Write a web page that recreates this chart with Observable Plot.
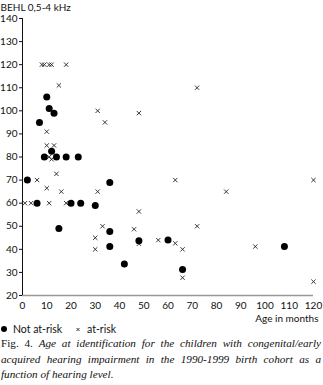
<!DOCTYPE html>
<html>
<head>
<meta charset="utf-8">
<script src="https://cdn.jsdelivr.net/npm/d3@7"></script>
<script src="https://cdn.jsdelivr.net/npm/@observablehq/plot@0.6"></script>
<style>
  html, body { margin: 0; padding: 0; background: #fff; }
  #wrap { width: 323px; }
  .legend { height: 11px; position: relative; }
  .caption { font-family: "Liberation Serif", serif; font-size: 11.2px; line-height: 15.5px; color: #111; padding: 0 2px 0 1px; margin-top: 1px; }
  .caption div { white-space: nowrap; }
  .caption .j { text-align: justify; text-align-last: justify; white-space: normal; }
  .caption i { font-style: italic; }
</style>
</head>
<body>
<div id="wrap"></div>
<script>
const notAtRiskAge  = [2, 6, 7, 9, 10, 11, 12, 13, 14, 18, 20, 23, 24, 15, 30, 36, 36, 36, 42, 48, 60, 66, 108];
const notAtRiskBEHL = [70, 60, 95, 80, 106, 101, 82.5, 99, 80, 80, 60, 80, 60, 49, 59, 69, 47.7, 41.2, 33.7, 43.7, 44, 31.3, 41.2];

const atRiskAge  = [8, 9, 11, 12, 18, 15, 31, 34, 48, 72, 10, 10, 13, 11, 12, 6, 14, 10, 16, 1, 3.5, 11, 18, 31, 33, 30, 30, 46, 48, 48, 56, 63, 84, 72, 63, 66, 66, 96, 120, 120];
const atRiskBEHL = [120, 120, 120, 120, 120, 111, 100, 95, 99, 110, 91, 85, 85, 80, 79, 70, 72.7, 66.5, 65, 60, 60, 60, 60, 65, 50, 45, 40, 48.7, 56.4, 42.4, 44, 70, 65, 50, 42.6, 40, 27.7, 41.2, 70, 26];

const xTicks = [0, 10, 20, 30, 40, 50, 60, 70, 80, 90, 100, 110, 120];
const yTicks = [20, 30, 40, 50, 60, 70, 80, 90, 100, 110, 120, 130, 140];

const captionLines = [
  "Age at identification for the children with congenital/early",
  "acquired hearing impairment in the 1990-1999 birth cohort as a",
  "function of hearing level."
];

const notAtRisk = notAtRiskAge.map((a, i) => ({age: a, behl: notAtRiskBEHL[i]}));
const atRisk = atRiskAge.map((a, i) => ({age: a, behl: atRiskBEHL[i]}));

const plot = Plot.plot({
  width: 323,
  height: 324,
  marginLeft: 22,
  marginRight: 10,
  marginTop: 18,
  marginBottom: 29,
  style: {fontFamily: "Lato, sans-serif", fontSize: "10px", color: "#111", background: "#fff"},
  x: {domain: [0, 120]},
  y: {domain: [20, 140]},
  marks: [
    Plot.ruleY([20], {stroke: "#999", strokeWidth: 1.5}),
    Plot.ruleX([0], {y1: 20, y2: 140, stroke: "#111"}),
    Plot.axisY({ticks: yTicks, tickSize: 3, tickPadding: 2, label: "BEHL 0,5-4 kHz", labelAnchor: "top", labelArrow: "none", labelOffset: 22, fontSize: 10}),
    Plot.axisX({ticks: xTicks, tickSize: 0, tickPadding: 6, label: null, fontSize: 10}),
    Plot.text(["Age in months"], {frameAnchor: "bottom-right", textAnchor: "end", lineAnchor: "middle", dx: 5, dy: 23, fontSize: 10, fill: "#111"}),
    Plot.dot(atRisk, {x: "age", y: "behl", symbol: "times", r: 2.1, stroke: "#222", strokeWidth: 0.9}),
    Plot.dot(notAtRisk, {x: "age", y: "behl", r: 3.5, fill: "#000", stroke: "none"})
  ]
});

const wrap = document.getElementById("wrap");
wrap.appendChild(plot);

const legend = document.createElement("div");
legend.className = "legend";
legend.innerHTML = `
<svg width="323" height="11" style="position:absolute;left:0;top:0;overflow:visible">
  <circle cx="4" cy="5" r="3" fill="#000"></circle>
  <text x="13" y="5" dy="0.35em" font-family="Lato, sans-serif" font-size="10.5" fill="#111">Not at-risk</text>
  <g stroke="#222" stroke-width="0.9"><line x1="76.5" y1="4" x2="79.5" y2="7"></line><line x1="79.5" y1="4" x2="76.5" y2="7"></line></g>
  <text x="87" y="5" dy="0.35em" font-family="Lato, sans-serif" font-size="10.5" fill="#111">at-risk</text>
</svg>`;
wrap.appendChild(legend);

const cap = document.createElement("div");
cap.className = "caption";
cap.innerHTML =
  `<div class="j"><span>Fig. 4.</span> <i>${captionLines[0]}</i></div>` +
  `<div class="j"><i>${captionLines[1]}</i></div>` +
  `<div><i>${captionLines[2]}</i></div>`;
wrap.appendChild(cap);
</script>
</body>
</html>
